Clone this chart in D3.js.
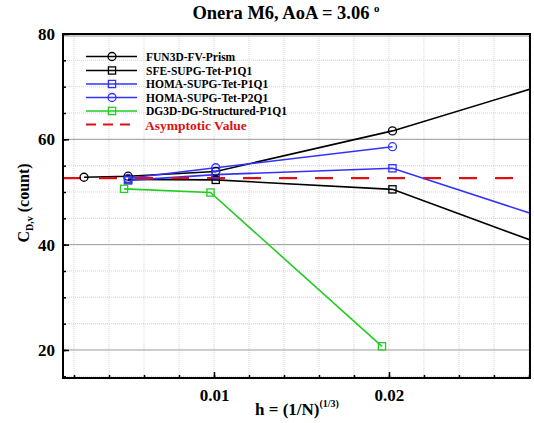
<!DOCTYPE html>
<html>
<head>
<meta charset="utf-8">
<script src="https://cdn.jsdelivr.net/npm/d3@7"></script>
<style>
  body { margin: 0; background: #fff; }
  text { font-family: "Liberation Serif", "Times New Roman", serif; font-weight: bold; }
</style>
</head>
<body>
<svg id="chart" width="534" height="423"></svg>
<script>
// series data, [h, Cd] pairs. last point of some series lies outside the axis, line gets clipped
var fun3d = [[0.00257, 52.8], [0.00509, 53.0], [0.0101, 53.9], [0.0202, 61.6], [0.032, 73.5]];
var sfe = [[0.00509, 52.4], [0.0101, 52.3], [0.0202, 50.5], [0.032, 36.1]];
var homaP1 = [[0.00509, 52.2], [0.0101, 53.3], [0.0202, 54.5], [0.032, 41.7]];
var homaP2 = [[0.00509, 52.6], [0.0101, 54.6], [0.0202, 58.6]];
var dg3d = [[0.00486, 50.6], [0.0098, 49.9], [0.0196, 20.7]];
var asymptotic = 52.65;

var seriesNames = ["FUN3D-FV-Prism", "SFE-SUPG-Tet-P1Q1", "HOMA-SUPG-Tet-P1Q1", "HOMA-SUPG-Tet-P2Q1", "DG3D-DG-Structured-P1Q1"];
var xTickVals = [0.01, 0.02];
var yTickVals = [20, 40, 60, 80];

var series = [
  {name: seriesNames[0], data: fun3d, color: "#000000", marker: "circle"},
  {name: seriesNames[1], data: sfe, color: "#000000", marker: "square"},
  {name: seriesNames[2], data: homaP1, color: "#3232ff", marker: "square"},
  {name: seriesNames[3], data: homaP2, color: "#3232ff", marker: "circle"},
  {name: seriesNames[4], data: dg3d, color: "#22cc22", marker: "square"}
];

var L = 63, R = 530, T = 34, B = 378;
var svg = d3.select("#chart");

var x = d3.scaleLinear().domain([0.00137, 0.02806]).range([L, R]);
var y = d3.scaleLinear().domain([14.68, 80]).range([B, T]);

svg.append("clipPath").attr("id", "clip")
  .append("rect").attr("x", L).attr("y", T).attr("width", R - L).attr("height", B - T);

// grid
var g = svg.append("g");
g.selectAll(".vminor").data(d3.range(0.002, 0.0281, 0.002))
  .enter().append("line")
  .attr("x1", function(d) { return x(d); }).attr("x2", function(d) { return x(d); })
  .attr("y1", T).attr("y2", B)
  .style("stroke", "#c8c8c8").style("stroke-width", 0.8).style("stroke-dasharray", "1,1");
g.selectAll(".hminor").data(d3.range(15, 80, 5).filter(function(d) { return d % 20 != 0; }))
  .enter().append("line")
  .attr("y1", function(d) { return y(d); }).attr("y2", function(d) { return y(d); })
  .attr("x1", L).attr("x2", R)
  .style("stroke", "#c8c8c8").style("stroke-width", 0.8).style("stroke-dasharray", "1,1");
g.selectAll(".hmajor").data(yTickVals)
  .enter().append("line")
  .attr("y1", function(d) { return y(d) + (d == 80 ? 2 : 0); }).attr("y2", function(d) { return y(d) + (d == 80 ? 2 : 0); })
  .attr("x1", L).attr("x2", R)
  .style("stroke", "#999").style("stroke-width", 1);

// axes with inward ticks
var yAxis = d3.axisLeft(y).tickValues(yTickVals).tickSize(-6).tickPadding(8).tickFormat(d3.format("d"));
var yMinor = d3.axisLeft(y).tickValues(d3.range(15, 80, 5)).tickSize(-3).tickFormat("");
var xAxis = d3.axisBottom(x).tickValues(xTickVals).tickSize(-6).tickPadding(11).tickFormat(d3.format(".2f"));
var xMinor = d3.axisBottom(x).tickValues(d3.range(0.002, 0.0281, 0.002)).tickSize(-3).tickFormat("");

svg.append("g").attr("transform", "translate(" + L + ",0)").call(yMinor);
svg.append("g").attr("transform", "translate(" + L + ",0)").call(yAxis)
  .selectAll("text").style("font-size", "17px");
svg.append("g").attr("transform", "translate(0," + B + ")").call(xMinor);
svg.append("g").attr("transform", "translate(0," + B + ")").call(xAxis)
  .selectAll("text").style("font-size", "17px");
svg.selectAll(".domain").remove();
svg.selectAll(".tick line").style("stroke", "#000").style("stroke-width", 1.5);

// lines
var line = d3.line().x(function(d) { return x(d[0]); }).y(function(d) { return y(d[1]); });
var plot = svg.append("g").attr("clip-path", "url(#clip)");

series.forEach(function(s) {
  plot.append("path").datum(s.data).attr("d", line)
    .style("fill", "none").style("stroke", s.color).style("stroke-width", 1.6);
});

plot.append("line")
  .attr("x1", L).attr("x2", R).attr("y1", y(asymptotic)).attr("y2", y(asymptotic))
  .style("stroke", "#dd1111").style("stroke-width", 2.2).style("stroke-dasharray", "18,18");

function drawMarker(sel, type, cx, cy, color) {
  if (type == "circle")
    sel.append("circle").attr("cx", cx).attr("cy", cy).attr("r", 4)
      .style("fill", "none").style("stroke", color).style("stroke-width", 1.3);
  else
    sel.append("rect").attr("x", cx - 3.6).attr("y", cy - 3.6).attr("width", 7.2).attr("height", 7.2)
      .style("fill", "none").style("stroke", color).style("stroke-width", 1.3);
}

series.forEach(function(s) {
  s.data.forEach(function(d) {
    if (d[0] < x.domain()[1]) drawMarker(plot, s.marker, x(d[0]), y(d[1]), s.color);
  });
});

// frame
svg.append("rect").attr("x", L).attr("y", T).attr("width", R - L).attr("height", B - T)
  .style("fill", "none").style("stroke", "#000").style("stroke-width", 2);

// legend
var leg = svg.append("g");
var rowY = [56.5, 70.5, 84, 97.5, 111];
series.forEach(function(s, i) {
  leg.append("line").attr("x1", 86).attr("x2", 137).attr("y1", rowY[i]).attr("y2", rowY[i])
    .style("stroke", s.color).style("stroke-width", 1.6);
  drawMarker(leg, s.marker, 112, rowY[i], s.color);
  leg.append("text").attr("x", 146).attr("y", rowY[i] + 4).style("font-size", "11.5px").text(s.name);
});
leg.append("line").attr("x1", 86).attr("x2", 137).attr("y1", 124.5).attr("y2", 124.5)
  .style("stroke", "#dd1111").style("stroke-width", 2.2).style("stroke-dasharray", "10,7");
leg.append("text").attr("x", 145).attr("y", 129.5).style("font-size", "13.5px").style("fill", "#dd1111")
  .text("Asymptotic Value");

// title and axis labels
var title = svg.append("text").attr("x", 286).attr("y", 19).attr("text-anchor", "middle").style("font-size", "18.5px");
title.append("tspan").text("Onera M6, AoA = 3.06 ");
title.append("tspan").attr("dy", -7).style("font-size", "11px").text("o");

var xl = svg.append("text").attr("x", 297).attr("y", 415).attr("text-anchor", "middle").style("font-size", "17px");
xl.append("tspan").text("h = (1/N)");
xl.append("tspan").attr("dy", -8).style("font-size", "10px").text("(1/3)");

var yl = svg.append("text").attr("transform", "translate(29,203) rotate(-90)")
  .attr("text-anchor", "middle").style("font-size", "16px");
yl.append("tspan").text("C");
yl.append("tspan").attr("dy", 4).style("font-size", "10px").text("D,v");
yl.append("tspan").attr("dy", -4).text(" (count)");
</script>
</body>
</html>
